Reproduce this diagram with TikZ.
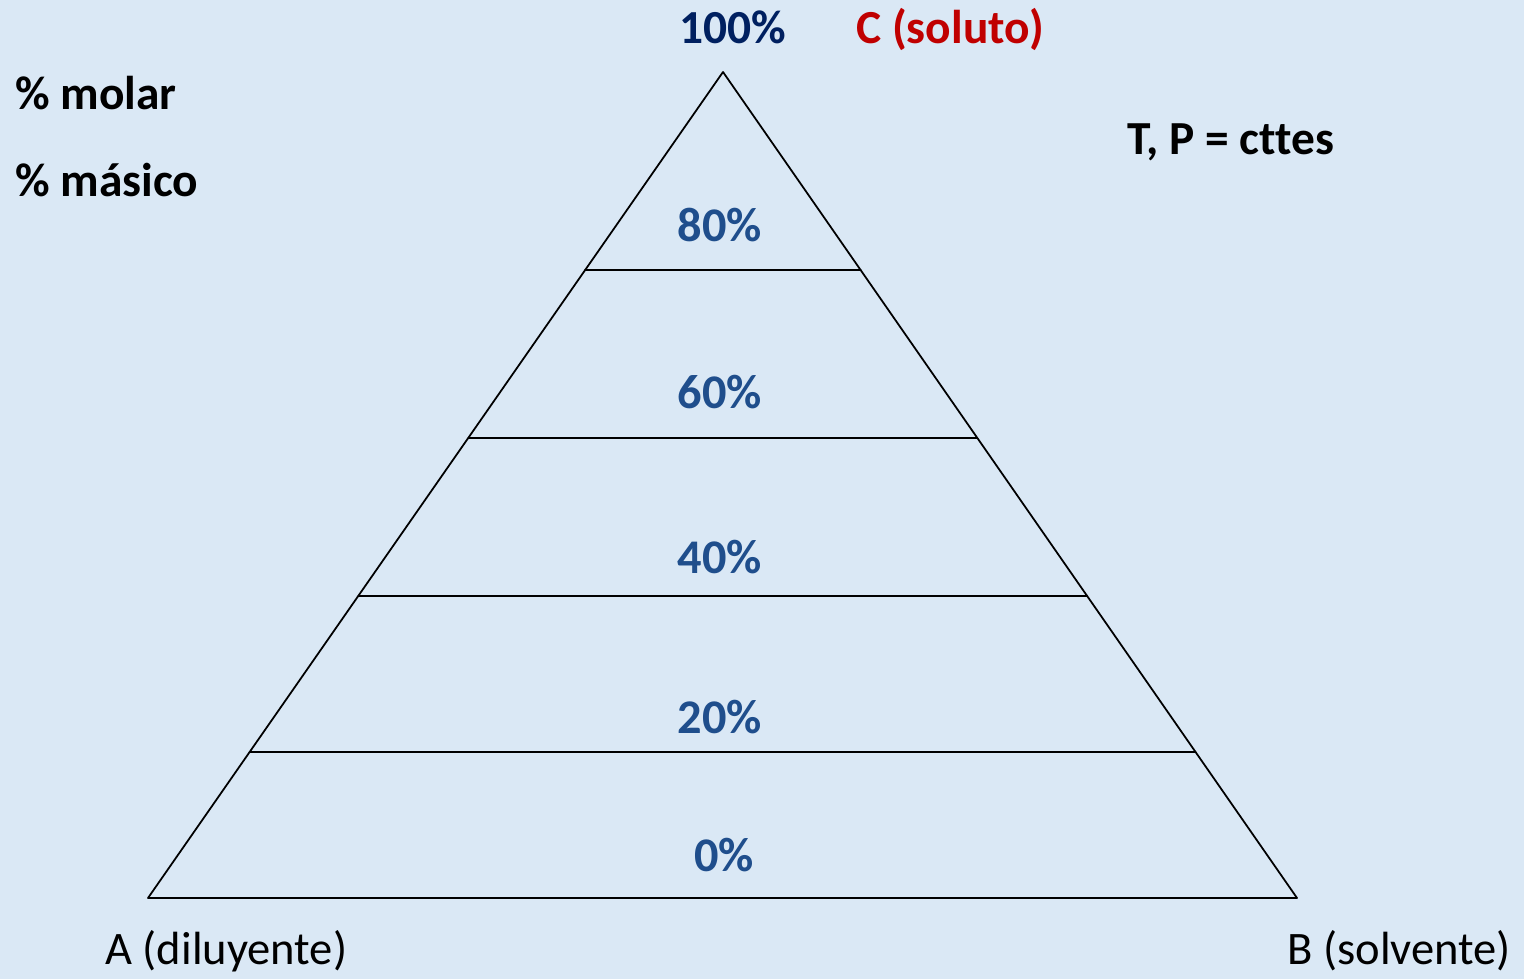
\documentclass[tikz,border=0pt]{standalone}
\usepackage{fontspec}
\setmainfont{Carlito}[Ligatures={NoCommon}]
\usepackage{tikz}
\usetikzlibrary{calc}
\definecolor{paper}{HTML}{DAE8F5}
\definecolor{navy}{HTML}{002060}
\definecolor{steel}{HTML}{1F4E8C}
\definecolor{soluto}{HTML}{C00000}
\tikzset{
    every picture/.style={line cap=round,line join=round},
    edgeline/.style={draw=black,line width=1pt},
    pctlabel/.style={text=steel,font=\fontsize{27.5}{32}\selectfont\bfseries,anchor=base,inner sep=0pt},
    headlabel/.style={font=\fontsize{27}{32}\selectfont\bfseries,anchor=base west,inner sep=0pt},
    cornerlabel/.style={font=\fontsize{26.5}{30}\selectfont,anchor=base west,inner sep=0pt}
}
\begin{document}
\begin{tikzpicture}[x=0.02cm,y=-0.02cm]
  % background
  \fill[paper] (0,0) rectangle (1524,979);
  \useasboundingbox (0,0) rectangle (1524,979);
  % triangle corners
  \coordinate (apex) at (723,72);
  \coordinate (bl) at (148,898);
  \coordinate (br) at (1297,898);
  \draw[edgeline] (bl) -- (apex) -- (br) -- cycle;
  % composition levels
  \foreach \f in {0.1768,0.3656,0.557,0.760}
    \draw[edgeline] ($(bl)!\f!(apex)$) -- ($(br)!\f!(apex)$);
  % level labels
  \foreach \name/\y/\txt in {p80/242/80\%,p60/409/60\%,p40/573/40\%,p20/733/20\%}
    \node[pctlabel] (\name) at (720,\y) {\txt};
  \node[pctlabel] (p0) at (724,871) {0\%};
  \node[headlabel,anchor=base,text=navy] (p100) at (733,44) {100\%};
  \node[headlabel,text=soluto] (compC) at (856,44) {C (soluto)};
  % units and conditions
  \node[headlabel] (molar) at (15,110) {\% molar};
  \node[headlabel] (masico) at (15,197) {\% másico};
  \node[headlabel] (cond) at (1127,155) {T, P = cttes};
  % components at the base
  \node[cornerlabel] (compA) at (105,964) {A (diluyente)};
  \node[cornerlabel] (compB) at (1287,964) {B (solvente)};
\end{tikzpicture}
\end{document}
